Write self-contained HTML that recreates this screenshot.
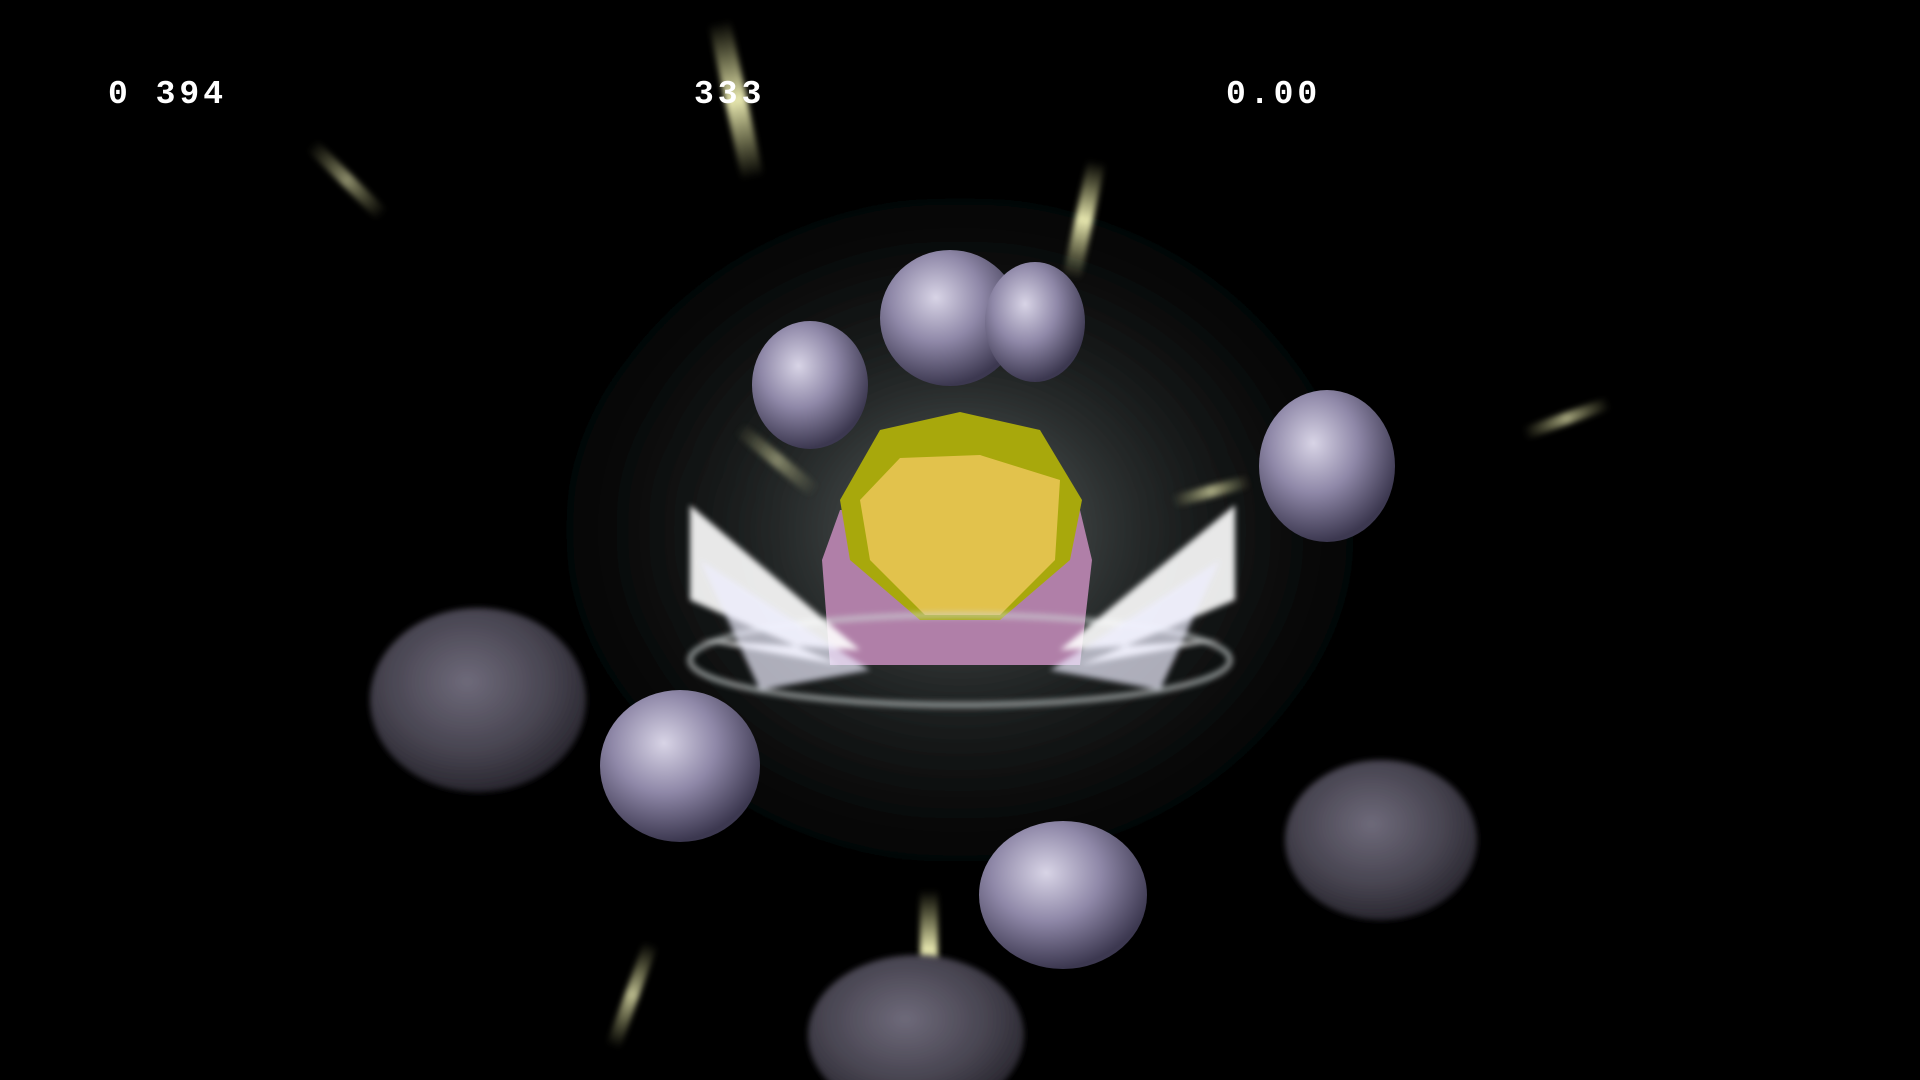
<!DOCTYPE html>
<html><head><meta charset="utf-8"><style>
html,body{margin:0;padding:0;background:#000;width:1920px;height:1080px;overflow:hidden}
svg{display:block}
.hud{font-family:"Liberation Mono",monospace;font-weight:bold;font-size:33px;fill:#fff;letter-spacing:4px}
</style></head><body>
<svg width="1920" height="1080" viewBox="0 0 1920 1080">
<defs>
<radialGradient id="glow" cx="50%" cy="50%" r="50%">
<stop offset="0" stop-color="#9aa3a3" stop-opacity="0.7"/>
<stop offset="0.4" stop-color="#4a5252" stop-opacity="0.45"/>
<stop offset="0.75" stop-color="#222626" stop-opacity="0.2"/>
<stop offset="1" stop-color="#000" stop-opacity="0"/>
</radialGradient>
<radialGradient id="rock" cx="40%" cy="35%" r="65%">
<stop offset="0" stop-color="#d8d4e6"/>
<stop offset="0.5" stop-color="#8f88a8"/>
<stop offset="1" stop-color="#3c3850"/>
</radialGradient>
<radialGradient id="rockd" cx="45%" cy="40%" r="65%">
<stop offset="0" stop-color="#6e6a7a"/>
<stop offset="0.6" stop-color="#46434f"/>
<stop offset="1" stop-color="#222028"/>
</radialGradient>
<filter id="b3" x="-50%" y="-50%" width="200%" height="200%"><feGaussianBlur stdDeviation="3"/></filter>
<filter id="b30" x="-50%" y="-50%" width="200%" height="200%"><feGaussianBlur stdDeviation="40"/></filter>
<linearGradient id="streak" x1="0" y1="0" x2="0" y2="1">
<stop offset="0" stop-color="#cfd08a" stop-opacity="0"/>
<stop offset="0.5" stop-color="#e8e8b0"/>
<stop offset="1" stop-color="#cfd08a" stop-opacity="0"/>
</linearGradient>
</defs>
<rect width="1920" height="1080" fill="#000"/>
<ellipse cx="960" cy="530" rx="480" ry="400" fill="url(#glow)" filter="url(#b30)"/>
<g filter="url(#b3)">
<rect x="725" y="20" width="22" height="160" fill="url(#streak)" transform="rotate(-12 736 100)"/>
<rect x="340" y="130" width="14" height="100" fill="url(#streak)" opacity="0.6" transform="rotate(-45 347 180)"/>
<rect x="1075" y="160" width="18" height="120" fill="url(#streak)" transform="rotate(12 1084 220)"/>
<rect x="1570" y="380" width="12" height="90" fill="url(#streak)" opacity="0.7" transform="rotate(70 1576 415)"/>
<rect x="1210" y="455" width="12" height="80" fill="url(#streak)" opacity="0.7" transform="rotate(75 1216 490)"/>
<rect x="920" y="890" width="18" height="120" fill="url(#streak)"/>
<rect x="625" y="940" width="14" height="110" fill="url(#streak)" opacity="0.8" transform="rotate(20 632 995)"/>
<rect x="770" y="410" width="14" height="100" fill="url(#streak)" opacity="0.5" transform="rotate(-50 777 460)"/>
</g>
<g>
<ellipse cx="478" cy="700" rx="108" ry="92" fill="url(#rockd)" filter="url(#b3)"/>
<ellipse cx="1381" cy="840" rx="96" ry="80" fill="url(#rockd)" filter="url(#b3)"/>
<ellipse cx="916" cy="1035" rx="108" ry="80" fill="url(#rockd)" filter="url(#b3)"/>
<ellipse cx="810" cy="385" rx="58" ry="64" fill="url(#rock)"/>
<ellipse cx="950" cy="318" rx="70" ry="68" fill="url(#rock)"/>
<ellipse cx="1035" cy="322" rx="50" ry="60" fill="url(#rock)"/>
<ellipse cx="1327" cy="466" rx="68" ry="76" fill="url(#rock)"/>
<ellipse cx="680" cy="766" rx="80" ry="76" fill="url(#rock)"/>
<ellipse cx="1063" cy="895" rx="84" ry="74" fill="url(#rock)"/>
</g>
<g>
<path d="M822,560 L840,510 L1080,510 L1092,560 L1080,665 L830,665 Z" fill="#b07fa8"/>
<path d="M840,500 L880,430 L960,412 L1040,430 L1082,500 L1070,560 L1000,620 L920,620 L850,560 Z" fill="#a8a80c"/>
<path d="M860,500 L900,458 L980,455 L1060,480 L1055,560 L1000,615 L925,615 L870,560 Z" fill="#e2c24c"/>
</g>
<g filter="url(#b3)">
<ellipse cx="960" cy="660" rx="270" ry="45" fill="none" stroke="#cfd6d6" stroke-width="6" opacity="0.6"/>
<path d="M690,505 L860,650 L700,640 L840,665 L690,600 Z" fill="#fff" opacity="0.9"/>
<path d="M1235,505 L1060,650 L1220,640 L1080,665 L1235,600 Z" fill="#fff" opacity="0.9"/>
<path d="M700,560 L870,670 L760,690 Z" fill="#eef" opacity="0.7"/>
<path d="M1220,560 L1050,670 L1160,690 Z" fill="#eef" opacity="0.7"/>
</g>
<text class="hud" x="108" y="103">0 394</text>
<text class="hud" x="694" y="103">333</text>
<text class="hud" x="1226" y="103">0.00</text>
</svg>
</body></html>
